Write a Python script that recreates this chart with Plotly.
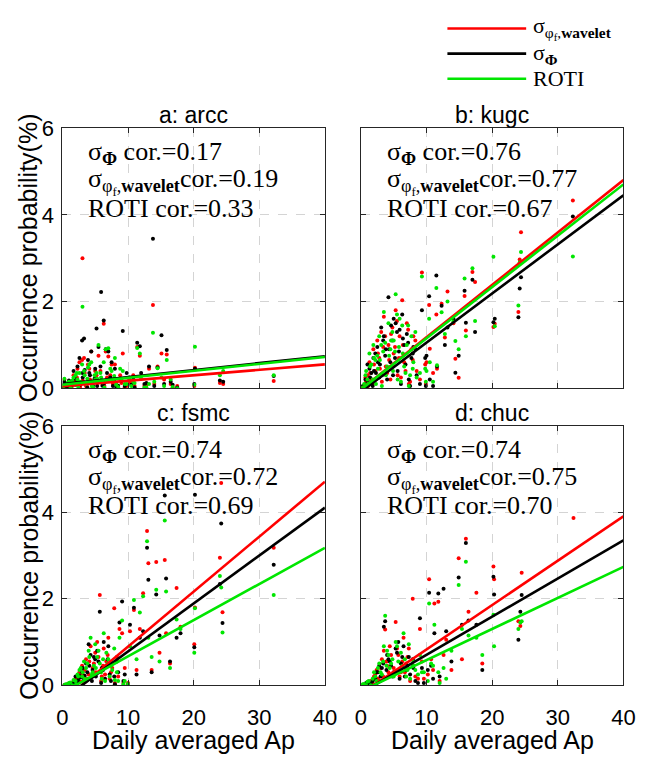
import plotly.graph_objects as go

# ---------------- data ----------------
STATIONS = ["a: arcc", "b: kugc", "c: fsmc", "d: chuc"]
COR_PHI = ["0.17", "0.76", "0.74", "0.74"]
COR_WAV = ["0.19", "0.77", "0.72", "0.75"]
COR_ROTI = ["0.33", "0.67", "0.69", "0.70"]

X_TICKS = [0, 10, 20, 30, 40]
Y_TICKS = [0, 2, 4, 6]
FIT_X = [0, 40]

# panel a: arcc
ap_a = [0.3, 0.6, 1.0, 1.1, 1.3, 1.7, 2.0, 2.3, 2.4, 2.6, 3.0, 3.06, 3.3, 3.6, 3.9, 4.2, 4.4, 4.7, 4.9,
        5.0, 5.2, 5.5, 5.9, 6.1, 6.3, 6.6, 7.0, 7.3, 7.7, 7.9, 8.0, 8.5, 9.0, 9.2, 9.8, 10.5, 10.8,
        11.4, 11.8, 12.5, 13.2, 13.8, 14.5, 15.1, 15.9, 16.5, 17.5, 20.1, 20.2, 24.0, 24.5, 32.2,
        0.2, 0.8, 1.5, 1.9, 2.2, 2.7, 3.1, 3.4, 3.8, 4.1, 4.5, 5.3, 5.8, 6.4, 6.8, 7.5, 8.2, 8.8, 9.5,
        10.2, 11.0, 12.0, 12.8, 14.0, 15.5, 16.8]
wav_a = [0.20, 0.05, 0.12, 0.00, 0.02, 0.30, 0.10, 0.45, 0.08, 0.60, 0.65, 3.00, 0.70, 0.05, 0.55, 0.20, 0.85, 0.02, 0.18,
         0.40, 0.30, 0.75, 0.15, 0.10, 1.49, 0.85, 0.73, 0.30, 0.10, 0.22, 0.55, 0.02, 0.12, 0.80, 0.05, 0.12, 0.30,
         0.95, 0.75, 0.05, 0.45, 1.92, 0.50, 0.80, 0.78, 0.10, 0.05, 0.05, 0.47, 0.12, 0.10, 0.17,
         0.02, 0.10, 0.05, 0.15, 0.25, 0.03, 0.18, 0.35, 0.10, 0.45, 0.08, 0.12, 0.40, 0.05, 0.25, 0.55, 0.12, 0.30, 0.02,
         0.15, 0.05, 0.28, 0.08, 0.10, 0.20, 0.02]
phi_a = [0.15, 0.02, 0.18, 0.03, 0.05, 0.40, 0.08, 0.50, 0.12, 0.70, 1.10, 0.35, 1.15, 0.12, 0.65, 0.30, 0.85, 0.05, 0.22,
         0.45, 1.38, 0.95, 2.22, 0.06, 1.56, 0.90, 0.85, 0.25, 0.05, 0.20, 0.45, 0.06, 0.18, 1.32, 0.35, 0.08, 0.25,
         1.05, 0.97, 0.10, 0.50, 3.45, 0.48, 1.22, 0.88, 0.15, 0.02, 0.10, 0.45, 0.18, 0.15, 0.28,
         0.00, 0.06, 0.10, 0.22, 0.12, 0.08, 0.25, 0.42, 0.02, 0.35, 0.14, 0.05, 0.50, 0.12, 0.35, 0.60, 0.03, 0.22, 0.05,
         0.25, 0.02, 0.35, 0.12, 0.05, 0.10, 0.08]
roti_a = [0.22, 0.08, 0.15, 0.06, 0.00, 0.25, 0.30, 0.20, 0.04, 0.35, 0.55, 1.88, 0.40, 0.10, 0.48, 0.15, 0.60, 0.03, 0.30,
          0.20, 0.35, 1.00, 0.25, 0.14, 0.60, 0.90, 0.92, 0.45, 0.20, 0.28, 0.70, 0.03, 0.22, 0.40, 0.10, 0.05, 0.15,
          0.93, 0.80, 0.02, 0.10, 1.28, 0.46, 0.25, 0.65, 0.20, 0.00, 0.08, 0.96, 0.30, 0.40, 0.30,
          0.05, 0.12, 0.18, 0.08, 0.35, 0.15, 0.12, 0.30, 0.22, 0.55, 0.04, 0.22, 0.35, 0.02, 0.18, 0.40, 0.08, 0.45, 0.10,
          0.20, 0.12, 0.22, 0.02, 0.15, 0.05, 0.03]

# panel b: kugc
ap_b = [0.5, 0.8, 1.0, 1.3, 1.6, 1.9, 2.2, 2.5, 2.8, 3.1, 3.5, 3.8, 4.2, 4.5, 4.8, 5.0, 5.3, 5.6, 5.9, 6.3,
        6.6, 7.0, 7.3, 7.7, 8.0, 8.5, 9.3, 9.8, 9.9, 10.4, 10.5, 11.0, 11.5, 11.6, 12.3, 12.8, 13.2, 14.1, 14.4,
        14.9, 15.8, 16.0, 17.0, 17.4, 20.2, 20.4, 24.0, 24.2, 24.4, 32.3,
        0.3, 0.7, 1.1, 1.4, 1.8, 2.0, 2.3, 2.6, 2.9, 3.2, 3.4, 3.7, 4.0, 4.3, 4.6, 4.9, 5.2, 5.5, 5.8, 6.1,
        6.4, 6.8, 7.2, 7.5, 7.9, 8.3, 9.0, 10.0]
wav_b = [0.05, 0.15, 0.30, 0.60, 0.20, 0.90, 0.40, 1.10, 0.70, 1.30, 1.65, 0.50, 1.00, 0.20, 1.40, 0.80, 1.80, 0.30, 1.20, 2.03,
         0.60, 1.50, 0.10, 0.90, 1.20, 0.40, 2.67, 0.55, 0.10, 1.92, 0.91, 0.35, 1.70, 0.45, 1.95, 1.17, 2.23, 1.50, 0.68,
         0.24, 2.13, 1.33, 2.68, 2.45, 1.41, 1.49, 1.76, 2.97, 3.60, 4.33,
         0.00, 0.25, 0.05, 0.35, 0.10, 0.55, 0.20, 0.80, 0.45, 0.15, 0.95, 1.20, 0.35, 0.65, 1.25, 0.50, 0.95, 1.55, 0.70, 0.25,
         1.00, 0.40, 1.35, 0.15, 0.65, 1.10, 0.20, 0.60]
phi_b = [0.00, 0.10, 0.55, 0.45, 0.35, 0.70, 0.80, 0.95, 0.25, 1.40, 1.20, 0.90, 2.10, 0.60, 1.10, 1.60, 1.50, 0.40, 1.35, 1.70,
         1.00, 1.25, 0.20, 0.70, 0.95, 0.30, 1.80, 0.70, 0.05, 2.12, 0.20, 0.05, 2.60, 0.50, 1.90, 1.00, 1.40, 1.60, 0.36,
         0.75, 2.25, 1.51, 2.50, 1.30, 1.52, 1.60, 1.64, 2.30, 2.56, 3.96,
         0.05, 0.20, 0.15, 0.25, 0.05, 0.40, 0.35, 0.60, 0.55, 0.30, 1.10, 0.75, 0.20, 0.90, 1.45, 0.30, 0.70, 1.30, 0.85, 0.10,
         1.15, 0.55, 1.05, 0.05, 0.80, 0.90, 0.10, 0.75]
roti_b = [0.10, 0.40, 0.20, 0.80, 0.55, 1.00, 0.65, 0.75, 1.20, 1.00, 1.76, 0.30, 1.50, 0.90, 1.30, 1.10, 2.17, 0.20, 1.60, 1.45,
          0.50, 1.00, 0.05, 1.20, 0.60, 0.25, 2.58, 0.45, 0.15, 1.60, 0.60, 0.15, 2.31, 0.53, 1.75, 1.25, 2.00, 1.54, 1.09,
          0.90, 2.53, 1.20, 2.77, 1.55, 3.03, 1.43, 1.91, 2.90, 3.14, 3.04,
          0.02, 0.30, 0.10, 0.50, 0.20, 0.70, 0.10, 0.45, 0.65, 0.05, 0.85, 1.05, 0.50, 0.75, 1.10, 0.40, 0.85, 1.70, 0.95, 0.15,
          0.80, 0.35, 1.45, 0.30, 0.45, 1.30, 0.35, 0.40]

# panel c: fsmc
ap_c = [0.5, 1.0, 1.5, 2.0, 2.3, 2.6, 3.0, 3.3, 3.6, 4.0, 4.3, 4.6, 5.0, 5.3, 5.7, 6.0, 6.3, 6.7, 7.0, 7.4,
        7.9, 8.3, 8.7, 9.1, 9.5, 10.0, 10.3, 10.9, 11.3, 11.8, 12.3, 12.9, 13.1, 13.6, 14.3, 14.8, 15.6, 15.8,
        16.4, 17.4, 18.0, 20.1, 20.2, 24.0, 24.2, 24.4, 32.2,
        0.3, 0.8, 1.2, 1.7, 2.1, 2.4, 2.8, 3.1, 3.4, 3.8, 4.1, 4.5, 4.8, 5.1, 5.5, 5.9, 6.2, 6.5, 6.9, 7.2,
        7.6, 8.0, 8.5, 9.3]
wav_c = [0.00, 0.02, 0.05, 0.15, 0.00, 0.30, 0.45, 0.10, 0.60, 0.25, 0.90, 0.40, 0.75, 1.00, 2.09, 0.20, 0.85, 0.55, 1.10, 0.30,
         1.78, 0.65, 1.30, 1.20, 0.40, 0.05, 1.25, 1.74, 0.35, 1.30, 2.13, 3.57, 2.82, 0.35, 2.85, 0.75, 2.90, 1.20,
         0.50, 2.25, 1.35, 0.95, 1.80, 2.95, 4.68, 1.69, 3.18,
         0.00, 0.03, 0.00, 0.10, 0.05, 0.18, 0.08, 0.25, 0.35, 0.15, 0.55, 0.20, 0.50, 0.30, 0.65, 0.10, 0.45, 0.25, 0.70, 0.15,
         0.40, 0.05, 0.20, 0.05]
phi_c = [0.00, 0.00, 0.03, 0.20, 0.05, 0.22, 0.30, 0.15, 0.50, 0.95, 0.70, 0.35, 0.60, 0.80, 1.70, 0.40, 1.00, 0.45, 0.90, 0.10,
         0.20, 0.55, 1.45, 1.94, 0.25, 0.00, 1.40, 1.79, 0.25, 1.10, 1.25, 3.18, 2.44, 0.30, 2.10, 1.15, 4.39, 2.47,
         0.55, 1.10, 1.20, 0.88, 4.41, 2.34, 3.74, 1.44, 2.79,
         0.00, 0.00, 0.02, 0.05, 0.08, 0.12, 0.18, 0.40, 0.22, 0.30, 0.45, 0.10, 0.65, 0.20, 0.55, 0.05, 0.35, 0.15, 0.60, 0.25,
         0.50, 0.02, 0.30, 0.10]
roti_c = [0.02, 0.05, 0.00, 0.10, 0.25, 0.35, 0.20, 0.55, 0.40, 0.80, 1.10, 0.30, 0.95, 0.65, 0.50, 0.15, 1.20, 0.75, 0.60, 0.45,
          0.85, 0.30, 1.10, 1.50, 0.10, 0.03, 0.90, 1.97, 0.60, 1.68, 2.06, 3.33, 1.10, 0.65, 2.21, 0.55, 3.81, 2.17,
          0.40, 1.52, 1.30, 0.75, 1.78, 2.53, 2.26, 1.22, 2.09,
          0.00, 0.02, 0.06, 0.12, 0.02, 0.20, 0.40, 0.30, 0.15, 0.50, 0.65, 0.25, 0.45, 0.40, 0.80, 0.30, 0.60, 0.10, 0.50, 0.20,
          0.35, 0.12, 0.10, 0.02]

# panel d: chuc
ap_d = [0.5, 1.0, 1.5, 2.0, 2.4, 2.8, 3.2, 3.5, 3.7, 4.0, 4.4, 4.8, 5.3, 5.7, 6.1, 6.5, 6.9, 7.3, 7.9, 8.3,
        9.0, 9.6, 10.4, 10.7, 11.2, 11.8, 12.6, 13.0, 13.8, 14.9, 15.4, 16.0, 16.4, 17.6, 18.5, 20.2, 20.3,
        24.0, 24.3, 24.5, 32.4,
        0.3, 0.8, 1.2, 1.8, 2.2, 2.6, 3.0, 3.4, 3.9, 4.2, 4.6, 5.0, 5.5, 5.9, 6.3, 6.7, 7.1, 7.5, 8.0, 8.7,
        9.3, 10.2, 11.0, 12.0]
wav_d = [0.00, 0.05, 0.10, 0.20, 0.35, 0.10, 0.60, 0.80, 1.29, 0.45, 0.90, 0.25, 1.46, 0.70, 0.30, 1.10, 0.50, 0.85, 2.00, 0.20,
         1.30, 0.15, 2.45, 0.60, 1.89, 1.93, 0.70, 1.05, 0.35, 2.94, 0.60, 3.39, 1.70, 2.14, 0.50, 2.75, 2.45,
         1.48, 1.37, 2.60, 3.87,
         0.00, 0.02, 0.08, 0.05, 0.25, 0.15, 0.40, 0.20, 0.55, 0.30, 0.70, 0.40, 0.85, 0.20, 0.55, 0.30, 0.65, 0.10, 0.45, 0.15,
         0.55, 0.25, 0.35, 0.10]
phi_d = [0.00, 0.02, 0.05, 0.15, 0.30, 0.45, 0.40, 1.35, 1.48, 0.70, 0.55, 0.20, 0.85, 1.00, 0.50, 0.90, 0.35, 0.65, 0.60, 0.10,
         1.55, 0.05, 2.14, 0.45, 1.20, 2.12, 2.23, 1.25, 0.55, 2.49, 1.40, 3.29, 1.50, 1.40, 0.35, 2.51, 2.10,
         1.05, 1.70, 2.09, None,
         0.00, 0.05, 0.00, 0.10, 0.15, 0.30, 0.20, 0.50, 0.35, 0.60, 0.45, 0.30, 0.75, 0.15, 0.65, 0.20, 0.45, 0.25, 0.40, 0.05,
         0.40, 0.35, 0.15, 0.20]
roti_d = [0.03, 0.08, 0.00, 0.30, 0.10, 0.50, 0.25, 0.90, 1.61, 0.80, 0.40, 0.60, 1.00, 0.55, 0.75, 1.20, 0.20, 0.95, 0.45, 0.35,
          0.70, 0.30, 1.89, 0.50, 1.40, 0.30, 0.40, 0.15, 0.80, 2.32, 1.30, 2.86, 1.15, 1.10, 0.70, 1.63, 0.90,
          1.30, 1.45, 1.48, None,
          0.02, 0.00, 0.10, 0.15, 0.20, 0.40, 0.30, 0.55, 0.45, 0.70, 0.50, 0.20, 0.90, 0.35, 0.45, 0.60, 0.35, 0.15, 0.55, 0.25,
          0.30, 0.10, 0.45, 0.05]

# fitted regression lines, values at FIT_X
fit_wav = [[0.05, 0.55], [-0.03, 4.80], [-0.38, 4.71], [-0.20, 3.91]]
fit_phi = [[0.10, 0.74], [-0.08, 4.45], [-0.33, 4.11], [-0.18, 3.35]]
fit_roti = [[0.08, 0.72], [-0.03, 4.70], [-0.17, 3.18], [-0.14, 2.74]]

AP = [ap_a, ap_b, ap_c, ap_d]
WAV = [wav_a, wav_b, wav_c, wav_d]
PHI = [phi_a, phi_b, phi_c, phi_d]
ROTI = [roti_a, roti_b, roti_c, roti_d]

# ---------------- style / layout ----------------
W, H = 649, 763
RED, BLACK, GREEN = "#ff0000", "#000000", "#00e600"
AXC = "#262626"
SANS = "Liberation Sans, Arial, sans-serif"
SERIF = "Liberation Serif, Times New Roman, serif"

# pixel boxes of the four panels: (left, right, top, bottom)
BOX = [(58, 328, 120, 389), (365, 635, 120, 389), (58, 328, 428, 696), (365, 635, 428, 696)]

LBL_WAV = "σ<sub>φ<sub>f</sub>,<b>wavelet</b></sub>"
LBL_PHI = "σ<sub><b>Φ</b></sub>"

fig = go.Figure()
layout = dict(width=W, height=H, margin=dict(l=0, r=0, t=0, b=0, pad=0),
              paper_bgcolor="white", plot_bgcolor="white", showlegend=False,
              annotations=[], shapes=[])

for i in range(4):
    xa = "x" if i == 0 else f"x{i+1}"
    ya = "y" if i == 0 else f"y{i+1}"
    l, r, t, b = BOX[i]
    for ys, col in ((WAV[i], RED), (PHI[i], BLACK), (ROTI[i], GREEN)):
        fig.add_trace(go.Scatter(x=AP[i], y=ys, mode="markers", xaxis=xa, yaxis=ya,
                                 marker=dict(color=col, size=4, line=dict(width=0)), cliponaxis=True))
    for fy, col in ((fit_wav[i], RED), (fit_phi[i], BLACK), (fit_roti[i], GREEN)):
        fig.add_trace(go.Scatter(x=FIT_X, y=fy, mode="lines", xaxis=xa, yaxis=ya,
                                 line=dict(color=col, width=2.6)))
    bottom_row = i >= 2
    left_col = i % 2 == 0
    xkey = "xaxis" if i == 0 else f"xaxis{i+1}"
    ykey = "yaxis" if i == 0 else f"yaxis{i+1}"
    layout[xkey] = dict(domain=[l / W, r / W], anchor=ya, range=[0, 40], tickvals=X_TICKS,
                        showticklabels=bottom_row, ticks="inside", ticklen=5, tickcolor=AXC,
                        showline=True, linecolor=AXC, linewidth=1, mirror="allticks",
                        showgrid=True, gridcolor="#d4d4d4", griddash="dash", gridwidth=1,
                        zeroline=False, tickfont=dict(family=SANS, size=22, color="black"),
                        ticklabelstandoff=12, fixedrange=True)
    layout[ykey] = dict(domain=[1 - b / H, 1 - t / H], anchor=xa, range=[0, 6], tickvals=Y_TICKS,
                        showticklabels=left_col, ticks="inside", ticklen=5, tickcolor=AXC,
                        showline=True, linecolor=AXC, linewidth=1, mirror="allticks",
                        showgrid=True, gridcolor="#d4d4d4", griddash="dash", gridwidth=1,
                        zeroline=False, tickfont=dict(family=SANS, size=22, color="black"),
                        ticklabelstandoff=3, fixedrange=True)
    # panel title
    layout["annotations"].append(dict(text=STATIONS[i], xref="paper", yref="paper",
                                      x=(l + r) / 2 / W, y=1 - (t - 13) / H, showarrow=False,
                                      xanchor="center", yanchor="middle",
                                      font=dict(family=SANS, size=23, color="black")))
    # correlation texts
    for txt, yv in ((LBL_PHI + " cor.=" + COR_PHI[i], 5.42),
                    (LBL_WAV + "cor.=" + COR_WAV[i], 4.76),
                    ("ROTI cor.=" + COR_ROTI[i], 4.15)):
        layout["annotations"].append(dict(text=txt, xref=xa, yref=ya, x=3.6, y=yv, showarrow=False,
                                          xanchor="left", yanchor="middle",
                                          font=dict(family=SERIF, size=26, color="black")))
    if left_col:
        layout["annotations"].append(dict(text="Occurrence probability(%)", xref="paper", yref="paper",
                                          x=23 / W, y=1 - (t + b) / 2 / H, textangle=-90, showarrow=False,
                                          xanchor="center", yanchor="middle",
                                          font=dict(family=SANS, size=25, color="black")))
    if bottom_row:
        layout["annotations"].append(dict(text="Daily averaged Ap", xref="paper", yref="paper",
                                          x=(l + r) / 2 / W, y=1 - 753 / H, showarrow=False,
                                          xanchor="center", yanchor="middle",
                                          font=dict(family=SANS, size=25, color="black")))

# legend (drawn manually)
for lbl, col, py in ((LBL_WAV, RED, 17), (LBL_PHI, BLACK, 43), ("ROTI", GREEN, 69)):
    layout["shapes"].append(dict(type="line", xref="paper", yref="paper",
                                 x0=454 / W, x1=535 / W, y0=1 - py / H, y1=1 - py / H,
                                 line=dict(color=col, width=2.6)))
    layout["annotations"].append(dict(text=lbl, xref="paper", yref="paper", x=540 / W, y=1 - py / H,
                                      showarrow=False, xanchor="left", yanchor="middle",
                                      font=dict(family=SERIF, size=22, color="black")))

fig.update_layout(**layout)
fig.write_html("out.html")
